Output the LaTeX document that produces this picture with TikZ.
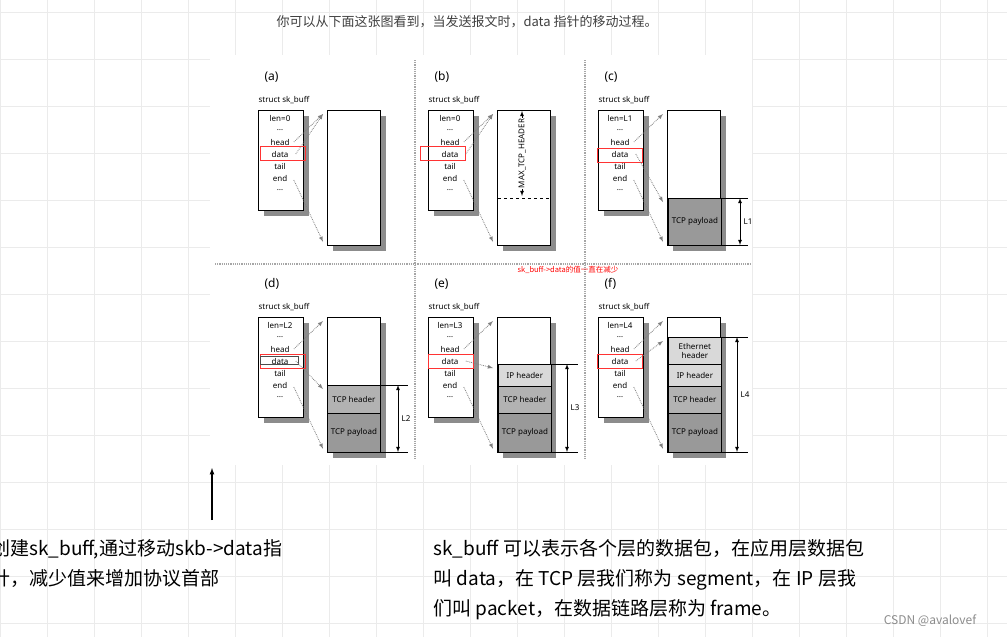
\documentclass[tikz,border=0pt]{standalone}
\usepackage{fontspec}
\setmainfont{Noto Sans}
\newfontfamily\cjk{Noto Sans CJK SC}
\usetikzlibrary{positioning}

\tikzset{
  fig/.style={font=\fontsize{8}{9}\selectfont},
  structbox/.style={draw,thick,fill=white,minimum width=45pt,minimum height=100pt,anchor=north west,inner sep=0pt},
  bufbox/.style={draw,thick,fill=white,minimum width=53pt,anchor=north west,inner sep=0pt},
  shadowbox/.style={fill=black!45,draw=none},
  ptr/.style={densely dotted,gray,thick,-latex},
  dim/.style={thick,latex-latex},
  sep/.style={densely dotted,gray!70,very thick},
  seg/.style={draw,thick,fill=black!#1,minimum width=53pt,anchor=north west,inner sep=0pt,font=\fontsize{8}{9}\selectfont},
}

% one sk_buff panel: x, y, name, len
\newcommand{\skbpanel}[4]{
  \node[fig,anchor=west] (lab#3) at (#1+3,#2-33) {\textbf{\large (#3)}};
  \node[fig,anchor=west] (ttl#3) at (#1-3,#2-10) {struct sk\_buff};
  \fill[shadowbox] (#1+6,#2+6) rectangle (#1+51,#2+106);
  \node[structbox] (s#3) at (#1,#2) {};
  \foreach \t [count=\i] in {len=#4,\dots,head,data,tail,end,\dots}
    \node[fig] at (#1+22,#2-4+12*\i) {\t};
  \fill[shadowbox] (#1+75,#2+6) rectangle (#1+128,#2+141);
  \node[bufbox,minimum height=135pt] (b#3) at (#1+69,#2) {};
}

\begin{document}
\begin{tikzpicture}[x=1pt,y=-1pt]
\useasboundingbox (0,0) rectangle (1007,637);
\fill[white] (0,0) rectangle (1007,637);

% background grid
\foreach \gx in {0,47,...,1007} \draw[black!8] (\gx,0) -- (\gx,637);
\foreach \gy in {12,59,...,637} \draw[black!8] (0,\gy) -- (1007,\gy);
\fill[white] (210,55) rectangle (752,465);

% caption
\node[font=\cjk\fontsize{13}{15}\selectfont,text=black!75] (caption) at (467,22) {你可以从下面这张图看到，当发送报文时，data 指针的移动过程。};

% separators
\draw[sep] (215,264) -- (750,264);
\draw[sep] (415,60) -- (415,460);
\draw[sep] (585,60) -- (585,460);

% panels
\skbpanel{258}{110}{a}{0}
\skbpanel{428}{110}{b}{0}
\skbpanel{598}{110}{c}{L1}
\skbpanel{258}{317}{d}{L2}
\skbpanel{428}{317}{e}{L3}
\skbpanel{598}{317}{f}{L4}

% (b) reserved header room
\draw[thick,dashed] (498,198) -- (551,198);
\coordinate (mt) at (522,111);
\coordinate (mb) at (522,196);
\draw[dim] (mt) -- (mb) node[midway,fill=white,rotate=90,fig,inner sep=1pt] {MAX\_TCP\_HEADER};

% (c) payload
\node[seg=40,minimum height=47pt] (pc) at (668,198) {TCP payload};
\draw[thick] (721,198) -- (748,198) (721,245) -- (748,245);
\draw[dim] (740,198) -- (740,245) node[midway,right,fig] {L1};

% (d)
\node[seg=40,minimum height=39pt] (pd) at (327,413) {TCP payload};
\node[seg=30,minimum height=28pt] (hd) at (327,385) {TCP header};
\draw[thick] (380,385) -- (408,385) (380,452) -- (408,452);
\draw[dim] (398,385) -- (398,452) node[midway,right,fig] {L2};

% (e)
\node[seg=40,minimum height=39pt] (pe) at (498,413) {TCP payload};
\node[seg=30,minimum height=27pt] (he) at (498,386) {TCP header};
\node[seg=15,minimum height=22pt] (ie) at (498,364) {IP header};
\draw[thick] (551,364) -- (578,364) (551,452) -- (578,452);
\draw[dim] (567,364) -- (567,452) node[midway,right,fig] {L3};

% (f)
\node[seg=40,minimum height=39pt] (pf) at (668,413) {TCP payload};
\node[seg=30,minimum height=27pt] (hf) at (668,386) {TCP header};
\node[seg=15,minimum height=22pt] (if) at (668,364) {IP header};
\node[seg=15,minimum height=27pt,align=center] (ef) at (668,337) {Ethernet\\header};
\draw[thick] (721,337) -- (748,337) (721,452) -- (748,452);
\draw[dim] (737,337) -- (737,452) node[midway,right,fig] {L4};

% data pointer marks
\foreach \px/\py in {260/146,420/146,597/148,260/354,428/354,597/354}
  \draw[red!80] (\px,\py) rectangle (\px+45,\py+14);
\draw[black!70] (260,356) rectangle (298,364);

% pointers head/data/end
\foreach \n/\dy in {a/0,b/0,c/88,d/68,e/47,f/20}{
  \draw[ptr] (s\n.north east) ++(-10,32) -- ([xshift=-4pt,yshift=-4pt]b\n.north west);
  \draw[ptr] (s\n.north east) ++(-8,44) -- ([xshift=-4pt,yshift=-4-\dy]b\n.north west);
  \draw[ptr] (s\n.north east) ++(-10,70) -- ([xshift=-4pt,yshift=4pt]b\n.south west);
}

% note
\node[text=red,font=\cjk\fontsize{7.5}{9}\selectfont] (note) at (568,270) {sk\_buff->data的值一直在减少};

% up arrow
\coordinate (ab) at (212,520);
\coordinate (at) at (212,468);
\draw[very thick,-latex] (ab) -- (at);

% bottom texts
\node[anchor=west,font=\cjk\fontsize{19}{21}\selectfont] (l1) at (-12,549) {创建sk\_buff,通过移动skb->data指};
\node[anchor=west,font=\cjk\fontsize{19}{21}\selectfont] (l2) at (-12,578) {针，减少值来增加协议首部};
\node[anchor=west,font=\cjk\fontsize{19}{21}\selectfont] (r1) at (430,549) {sk\_buff 可以表示各个层的数据包，在应用层数据包};
\node[anchor=west,font=\cjk\fontsize{19}{21}\selectfont] (r2) at (430,580) {叫 data，在 TCP 层我们称为 segment，在 IP 层我};
\node[anchor=west,font=\cjk\fontsize{19}{21}\selectfont] (r3) at (430,610) {们叫 packet，在数据链路层称为 frame。};
\node[text=black!45,font=\cjk\fontsize{12}{14}\selectfont] (wm) at (930,621) {CSDN @avalovef};
\end{tikzpicture}
\end{document}
